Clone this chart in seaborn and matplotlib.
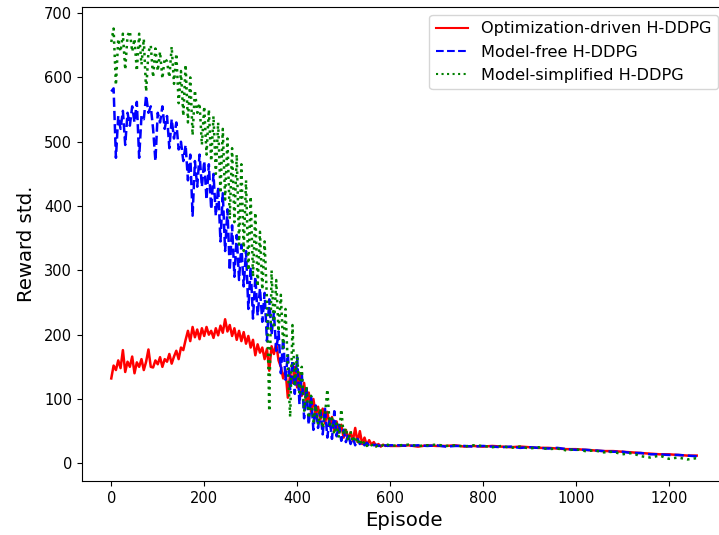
import numpy as np
import pandas as pd
import matplotlib
matplotlib.use("Agg")
import matplotlib.pyplot as plt
import seaborn as sns

# Episodes (x values)
episodes_head = list(range(0, 601, 5))
episodes_tail = list(range(620, 1261, 20))
episodes = episodes_head + episodes_tail

labels = ["Optimization-driven H-DDPG", "Model-free H-DDPG", "Model-simplified H-DDPG"]

opt_driven = [
    132, 152, 145, 160, 148, 176, 142, 158, 150, 166,
    140, 157, 150, 162, 145, 158, 177, 150, 149, 160,
    154, 165, 150, 162, 158, 170, 155, 166, 175, 162,
    180, 176, 192, 206, 190, 212, 196, 208, 193, 210,
    198, 212, 200, 206, 195, 210, 199, 214, 203, 224,
    205, 215, 198, 210, 192, 206, 190, 204, 186, 198,
    180, 192, 168, 185, 172, 180, 162, 178, 144, 182,
    170, 186, 160, 150, 132, 145, 102, 140, 125, 150,
    118, 140, 105, 125, 95, 110, 80, 100, 75, 88,
    68, 85, 62, 80, 58, 72, 50, 65, 48, 60,
    40, 52, 38, 48, 35, 55, 33, 50, 30, 40,
    28, 36, 29, 33, 27, 30, 26, 29, 27, 28,
    27,
    27, 28, 26, 28, 27, 27, 28, 26, 27, 26, 27, 26, 25, 26, 25, 24, 24,
    23, 22, 22, 21, 20, 19, 19, 18, 17, 16, 15, 14, 14, 13, 12, 12,
]

model_free = [
    578, 583, 475, 540, 520, 548, 495, 545, 525, 555,
    530, 562, 475, 540, 535, 572, 545, 555, 520, 470,
    545, 530, 555, 520, 540, 490, 535, 505, 530, 488,
    500, 470, 495, 440, 480, 385, 470, 430, 480, 430,
    470, 410, 465, 395, 450, 385, 430, 345, 420, 330,
    395, 300, 370, 290, 355, 285, 340, 275, 330, 240,
    305, 225, 290, 230, 272, 220, 265, 190, 255, 200,
    235, 175, 205, 140, 195, 130, 170, 115, 160, 108,
    165, 92, 140, 70, 120, 60, 105, 52, 90, 55,
    80, 45, 85, 40, 70, 38, 81, 42, 60, 35,
    52, 33, 45, 30, 40, 28, 38, 30, 34, 28,
    32, 27, 30, 28, 29, 27, 28, 26, 28, 27,
    28,
    28, 27, 28, 27, 28, 26, 27, 27, 26, 27, 26, 25, 26, 24, 25, 24, 23,
    24, 22, 21, 21, 20, 19, 18, 18, 16, 16, 14, 14, 13, 13, 12, 11,
]

model_simplified = [
    655, 676, 588, 660, 640, 668, 612, 665, 672, 640,
    660, 610, 668, 620, 660, 578, 640, 650, 600, 645,
    610, 640, 598, 630, 625, 600, 648, 590, 637, 560,
    610, 540, 620, 530, 600, 510, 580, 545, 560, 495,
    555, 480, 550, 470, 540, 450, 530, 420, 520, 410,
    505, 380, 490, 375, 480, 340, 465, 330, 440, 300,
    415, 290, 390, 275, 360, 270, 345, 255, 81, 300,
    210, 285, 205, 262, 180, 240, 150, 72, 215, 120,
    170, 110, 150, 80, 120, 70, 105, 65, 90, 60,
    85, 55, 75, 115, 60, 70, 45, 62, 40, 84,
    45, 55, 35, 50, 33, 42, 30, 38, 28, 34,
    27, 31, 28, 30, 26, 29, 27, 28, 26, 29,
    27,
    28, 29, 27, 28, 29, 27, 28, 26, 28, 27, 25, 27, 24, 26, 23, 25, 22,
    23, 20, 22, 19, 20, 17, 18, 14, 16, 11, 9, 12, 7, 9, 6, 8,
]

series = [opt_driven, model_free, model_simplified]
colors = ["red", "blue", "green"]
styles = ["-", "--", ":"]

W, H = 719, 535
fig = plt.figure(figsize=(W / 100, H / 100), dpi=100)
ax = fig.add_axes([82 / W, (H - 481) / H, (726 - 82) / W, (481 - 7) / H])

for lab, vals, c, ls in zip(labels, series, colors, styles):
    df = pd.DataFrame({"Episode": episodes, "value": vals})
    sns.lineplot(data=df, x="Episode", y="value", ax=ax, color=c,
                 linestyle=ls, linewidth=1.8, label=lab, estimator=None)

ax.set_xlabel("Episode", fontsize=14.2)
ax.set_ylabel("Reward std.", fontsize=14.2, labelpad=6)
ax.tick_params(labelsize=10.5)
ax.set_xticks([0, 200, 400, 600, 800, 1000, 1200])
ax.set_yticks([0, 100, 200, 300, 400, 500, 600, 700])
ax.margins(x=0.05, y=0.05)
leg = ax.legend(loc="upper right", fontsize=11.6)
for line in leg.get_lines():
    line.set_linewidth(1.5)

fig.savefig("out.png", dpi=100)
